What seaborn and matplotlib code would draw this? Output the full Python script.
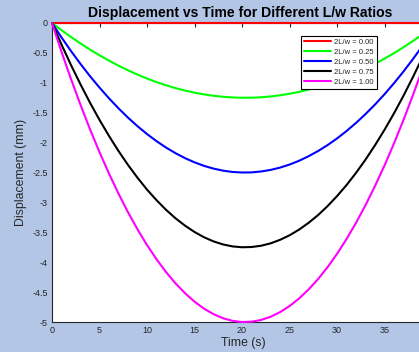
import numpy as np
import pandas as pd
import matplotlib
matplotlib.use("Agg")
import matplotlib.pyplot as plt
import seaborn as sns

# time samples (s)
time_s = [0, 1, 2, 3, 4, 5, 6, 7, 8, 9, 10, 11, 12, 13, 14, 15, 16, 17, 18, 19, 20,
          21, 22, 23, 24, 25, 26, 27, 28, 29, 30, 31, 32, 33, 34, 35, 36, 37, 38, 38.7]

# displacement (mm), one list per 2L/w ratio
disp_000 = [0.0] * 40
disp_025 = [0, -0.120, -0.234, -0.342, -0.444, -0.540, -0.630, -0.714, -0.791, -0.863,
            -0.929, -0.988, -1.041, -1.089, -1.130, -1.165, -1.194, -1.217, -1.234, -1.245,
            -1.250, -1.249, -1.242, -1.228, -1.209, -1.183, -1.152, -1.114, -1.071, -1.021,
            -0.965, -0.903, -0.835, -0.761, -0.681, -0.595, -0.503, -0.404, -0.300, -0.223]
disp_050 = [0, -0.241, -0.469, -0.685, -0.889, -1.080, -1.260, -1.427, -1.583, -1.726,
            -1.857, -1.976, -2.083, -2.177, -2.260, -2.330, -2.389, -2.435, -2.469, -2.491,
            -2.500, -2.498, -2.483, -2.457, -2.418, -2.367, -2.304, -2.228, -2.141, -2.042,
            -1.930, -1.806, -1.670, -1.522, -1.362, -1.190, -1.005, -0.809, -0.600, -0.446]
disp_075 = [0, -0.361, -0.703, -1.027, -1.333, -1.620, -1.889, -2.141, -2.374, -2.588,
            -2.786, -2.963, -3.124, -3.266, -3.389, -3.495, -3.583, -3.652, -3.703, -3.736,
            -3.750, -3.746, -3.725, -3.685, -3.626, -3.550, -3.455, -3.342, -3.212, -3.062,
            -2.894, -2.709, -2.505, -2.283, -2.042, -1.784, -1.508, -1.213, -0.899, -0.669]
disp_100 = [0, -0.481, -0.937, -1.369, -1.777, -2.160, -2.519, -2.854, -3.165, -3.451,
            -3.714, -3.951, -4.165, -4.354, -4.519, -4.660, -4.777, -4.869, -4.937, -4.981,
            -5.000, -4.995, -4.966, -4.913, -4.835, -4.733, -4.607, -4.456, -4.282, -4.083,
            -3.859, -3.612, -3.340, -3.044, -2.723, -2.379, -2.010, -1.617, -1.199, -0.892]

labels = ["2L/w = 0.00", "2L/w = 0.25", "2L/w = 0.50", "2L/w = 0.75", "2L/w = 1.00"]
colors = ["#ff0000", "#00ff00", "#0000ff", "#000000", "#ff00ff"]
series = [disp_000, disp_025, disp_050, disp_075, disp_100]

y_ticks = [0, -0.5, -1, -1.5, -2, -2.5, -3, -3.5, -4, -4.5, -5]
y_tick_labels = ["0", "-0.5", "-1", "-1.5", "-2", "-2.5", "-3", "-3.5", "-4", "-4.5", "-5"]
x_ticks = [0, 5, 10, 15, 20, 25, 30, 35]

frames = []
for lab, vals in zip(labels, series):
    frames.append(pd.DataFrame({"time": time_s, "disp": vals, "ratio": lab}))
df = pd.concat(frames, ignore_index=True)

sns.set_style("white")
plt.rcParams["font.family"] = ["Liberation Sans", "DejaVu Sans"]

fig = plt.figure(figsize=(4.19, 3.52), dpi=100, facecolor="#b4c6e6")
ax = fig.add_axes([52 / 419, 30 / 352, 382 / 419, 299 / 352])
ax.set_facecolor("white")

sns.lineplot(data=df, x="time", y="disp", hue="ratio", hue_order=labels,
             palette=dict(zip(labels, colors)), linewidth=1.5, ax=ax,
             estimator=None, sort=False, clip_on=False, zorder=3)

ax.set_xlim(0, 40.2)
ax.set_ylim(-5, 0)
ax.set_xticks(x_ticks)
ax.set_xticklabels([str(t) for t in x_ticks])
ax.set_yticks(y_ticks)
ax.set_yticklabels(y_tick_labels)
ax.tick_params(direction="in", length=3, width=0.8, labelsize=6.5,
               colors="#262626", top=True, right=True, pad=3)
for sp in ax.spines.values():
    sp.set_color("#262626")
    sp.set_linewidth(0.8)

ax.set_xlabel("Time (s)", fontsize=8.8, color="#262626", labelpad=1.5)
ax.set_ylabel("Displacement (mm)", fontsize=8.8, color="#262626", labelpad=4)
fig.text(240 / 419, 1 - 13.5 / 352, "Displacement vs Time for Different L/w Ratios",
         ha="center", va="center", fontsize=10.1, fontweight="bold", color="black")

leg = ax.legend(loc="upper left", bbox_to_anchor=(249 / 382, 1 - 12.5 / 299),
                fontsize=5.5, frameon=True, fancybox=False, edgecolor="black",
                framealpha=1, handlelength=3.5, handletextpad=0.4,
                labelspacing=0.35, borderpad=0.4, borderaxespad=0)
leg.get_frame().set_linewidth(0.8)
for h in leg.get_lines():
    h.set_linewidth(1.5)

fig.savefig("out.png", dpi=100, facecolor=fig.get_facecolor())
